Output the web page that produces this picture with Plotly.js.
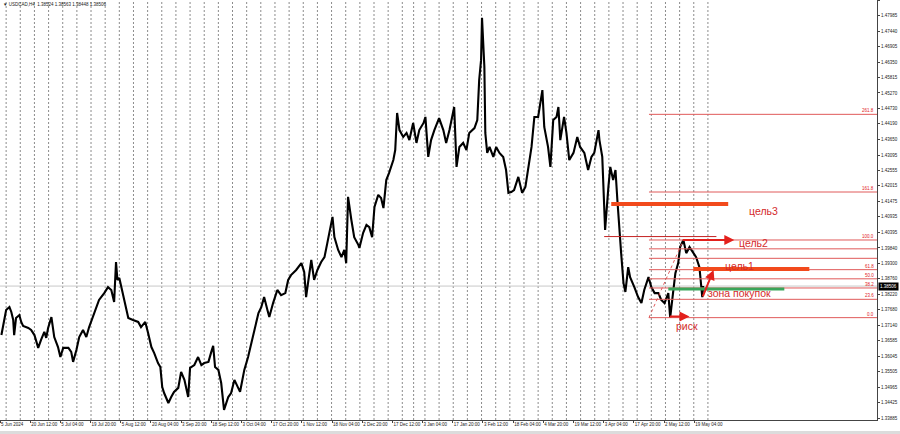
<!DOCTYPE html>
<html><head><meta charset="utf-8">
<script src="https://cdn.plot.ly/plotly-3.0.1.min.js"></script>
<style>html,body{margin:0;padding:0;background:#fff}#chart{width:900px;height:434px}</style>
</head><body><div id="chart"></div>
<script>
const symbolHeader = "\u25BC USDCAD,H4  1.38524 1.38563 1.38448 1.38506";

// H4 bar number (bar 0 = 5 Jun 2024 20:00) and price
const barIndex = [3,9,13,20,24,28,30,34,41,45,49,60,66,73,81,87,94,98,102,109,115,123,128,134,145,151,155,162,168,176,183,189,200,210,221,229,236,242,246,249,253,259,266,272,282,293,299,308,314,321,327,335,340,344,348,357,363,369,378,384,391,395,399,403,412,420,427,433,442,448,452,456,463,469,475,484,490,497,505,509,
511,518,526,533,539,548,554,560,567,571,579,588,596,605,611,617,628,639,645,649,654,660,666,673,681,688,694,700,705,709,717,724,730,734,738,745,751,760,762,770,777,783,789,794,802,808,813,819,825,834,838,842,847,855,862,868,876,883,889,898,902,908,914,921,931,940,946,953,963,968,974,982,989,995,1006,1012,1016,1020,1022,1027,1029,1033,1038,1046,1052,1059,1067,1073,1078,1084,1090,1099,1107,1114,1120,1127,1133,1141,1150,1154,1162,1167,1173,1180,1184,1188,1196,1201,1207,1216,1224,1230,1239,1247,1254,1260,1269,1271,1277,1281,1283,1290,1294,1300,1305,1309,1313,1317,1322,1326,1332,1336,1345,1353,1360,1366,1375,1381,1388,1396,1402,1409,1417,1421,1427,1432,1438,1442,1449,1455,1462,1470,1476,1483,1489,1491];
const price = [1.3679,1.3725,1.3767,1.3777,1.3760,1.3732,1.3679,1.3739,1.3749,1.3725,1.3711,1.3704,1.3697,1.3679,1.3634,1.3662,1.3690,1.3669,1.3704,1.3742,1.3672,1.3637,1.3602,1.3634,1.3634,1.3620,1.3585,1.3627,1.3672,1.3697,1.3672,1.3707,1.3756,1.3802,1.3826,1.3847,1.3837,1.3795,1.3935,1.3872,1.3879,1.3837,1.3777,1.3739,1.3732,1.3725,1.3707,1.3725,1.3686,1.3637,1.3616,1.3581,1.3567,1.3497,1.3476,1.3441,1.3462,1.3480,1.3494,1.3550,1.3522,1.3497,1.3462,1.3564,1.3574,1.3602,1.3574,1.3581,1.3585,1.3620,1.3641,1.3567,1.3557,1.3511,1.3417,1.3462,1.3476,1.3522,1.3497,1.3480,
1.3497,1.3557,1.3602,1.3651,1.3697,1.3756,1.3777,1.3812,1.3767,1.3742,1.3791,1.3837,1.3819,1.3826,1.3872,1.3889,1.3907,1.3931,1.3900,1.3812,1.3872,1.3942,1.3872,1.3907,1.3935,1.3952,1.4001,1.4057,1.4093,1.4022,1.3977,1.3952,1.3977,1.3931,1.4163,1.4082,1.4022,1.3994,1.3984,1.4037,1.4065,1.4057,1.4022,1.4128,1.4170,1.4159,1.4124,1.4222,1.4247,1.4292,1.4327,1.4457,1.4397,1.4373,1.4387,1.4362,1.4422,1.4352,1.4397,1.4422,1.4443,1.4303,1.4362,1.4397,1.4439,1.4397,1.4352,1.4397,1.4478,1.4268,1.4338,1.4352,1.4327,1.4387,1.4404,1.4432,1.4572,1.4642,1.4790,1.4618,1.4387,1.4317,1.4338,1.4303,1.4338,1.4317,1.4303,1.4257,1.4177,1.4180,1.4187,1.4233,1.4177,1.4198,1.4268,1.4338,1.4443,1.4443,1.4537,1.4408,1.4338,1.4268,1.4432,1.4443,1.4478,1.4362,1.4443,1.4387,1.4292,1.4317,1.4373,1.4338,1.4317,1.4257,1.4303,1.4317,1.4397,1.4362,1.4303,1.4152,1.4047,1.4198,1.4268,1.4222,1.4257,1.4152,1.4037,1.3966,1.3861,1.3830,1.3917,1.3882,1.3847,1.3812,1.3791,1.3837,1.3882,1.3847,1.3826,1.3826,1.3802,1.3791,1.3826,1.3740,1.3826,1.3896,1.3931,1.3987,1.4012,1.3966,1.3987,1.3966,1.3952,1.3917,1.3812,1.3851];

const xTickBars = [0,64,128,192,256,320,384,448,512,576,640,704,768,832,896,960,1024,1088,1152,1216,1280,1344,1408,1472];
const xTickLabels = ["5 Jun 2024","20 Jun 12:00","5 Jul 04:00","19 Jul 20:00","5 Aug 12:00","20 Aug 04:00","3 Sep 20:00","18 Sep 12:00","3 Oct 04:00","17 Oct 20:00","1 Nov 12:00","18 Nov 04:00","2 Dec 20:00","17 Dec 12:00","3 Jan 04:00","17 Jan 20:00","3 Feb 12:00","18 Feb 04:00","4 Mar 20:00","19 Mar 12:00","3 Apr 04:00","17 Apr 20:00","2 May 12:00","19 May 04:00"];
const weekStartBars = [13,43,73,103,133,163,193,223,253,283,313,343,373,403,433,463,493,523,553,583,613,643,673,703,733,763,793,823,853,877,901,931,961,991,1021,1051,1081,1111,1141,1171,1201,1231,1261,1291,1321,1351,1381,1411,1441,1471,1501];
const yTickValues = [1.48525,1.47985,1.47440,1.46905,1.46350,1.45815,1.45270,1.44730,1.44190,1.43650,1.43095,1.42555,1.42015,1.41475,1.40935,1.40395,1.39840,1.39300,1.38760,1.38220,1.37680,1.37140,1.36585,1.36045,1.35505,1.34965,1.34425,1.33885];
const lastPrice = 1.38506;

// Fibonacci retracement
const fibStartBar = 1376, fibEndBar = 1449;
const fibLow = 1.3740, fibHigh = 1.4012;
const fibLevels = [0, 23.6, 38.2, 50, 61.8, 76.4, 88.6, 100, 161.8, 261.8];
const fibShowLabel = [true, true, true, true, true, false, false, true, true, true];

// trade plan levels
const target3 = {price: 1.4138, from: 1296, to: 1544};
const target1 = {price: 1.3910, from: 1470, to: 1716};
const buyZone = {price: 1.3840, from: 1417, to: 1663};
const target2Line = {price: 1.4024, from: 1281, to: 1519};
const arrows = [
  {fromBar: 1445, fromP: 1.4012, toBar: 1557, toP: 1.4012},
  {fromBar: 1489, fromP: 1.3809, toBar: 1513, toP: 1.3907},
  {fromBar: 1417, fromP: 1.3744, toBar: 1462, toP: 1.3744}
];
const labels = [
  {text: "цель3", bar: 1618, p: 1.4113},
  {text: "цель2", bar: 1597, p: 1.4002},
  {text: "цель1", bar: 1567, p: 1.3921},
  {text: "зона покупок", bar: 1567, p: 1.3826},
  {text: "риск", bar: 1457, p: 1.3711}
];

const xMin = 0, xMax = 1859.5;
const yMin = 1.33815, yMax = 1.48526;
const RED = '#e3201c', FIBRED = '#e05a5a', ORANGE = '#f24a1c', GREEN = '#3aa55a';

const shapes = [];
weekStartBars.forEach(b => shapes.push({type:'line', xref:'x', yref:'paper', x0:b, x1:b, y0:0, y1:1,
  line:{color:'#8c8c8c', width:1, dash:'2px,2px'}, layer:'below'}));
shapes.push({type:'line', xref:'paper', yref:'y', x0:0, x1:1, y0:lastPrice, y1:lastPrice,
  line:{color:'#c8c8c8', width:1}, layer:'below'});
const fibPrice = l => fibLow + (fibHigh - fibLow) * l / 100;
fibLevels.forEach(l => shapes.push({type:'line', xref:'x', yref:'y', x0:fibStartBar, x1:xMax,
  y0:fibPrice(l), y1:fibPrice(l), line:{color:FIBRED, width:1}}));
shapes.push({type:'line', xref:'x', yref:'y', x0:fibStartBar, x1:fibEndBar, y0:fibLow, y1:fibHigh,
  line:{color:FIBRED, width:1, dash:'dot'}});
shapes.push({type:'line', xref:'x', yref:'y', x0:target2Line.from, x1:target2Line.to, y0:target2Line.price, y1:target2Line.price,
  line:{color:'#c42020', width:1}});
[target3, target1].forEach(t => shapes.push({type:'line', xref:'x', yref:'y', x0:t.from, x1:t.to, y0:t.price, y1:t.price,
  line:{color:ORANGE, width:4}}));
shapes.push({type:'line', xref:'x', yref:'y', x0:buyZone.from, x1:buyZone.to, y0:buyZone.price, y1:buyZone.price,
  line:{color:GREEN, width:3}});
// window bottom strip below the time scale
shapes.push({type:'rect', xref:'paper', yref:'paper', x0:0, x1:1.03, y0:-0.0335, y1:-0.026,
  line:{width:0}, fillcolor:'#dcdcdc'});

const annotations = [];
fibLevels.forEach((l, i) => { if (fibShowLabel[i]) annotations.push({xref:'paper', yref:'y', x:1, y:fibPrice(l),
  xanchor:'right', yanchor:'bottom', text:l.toFixed(1), showarrow:false, xshift:-1, yshift:-1,
  font:{family:'Liberation Sans, Arial', size:4.5, color:RED}}); });
arrows.forEach(a => annotations.push({xref:'x', yref:'y', axref:'x', ayref:'y', x:a.toBar, y:a.toP, ax:a.fromBar, ay:a.fromP,
  text:'', showarrow:true, arrowhead:2, arrowsize:1, arrowwidth:2, arrowcolor:RED}));
labels.forEach(t => annotations.push({xref:'x', yref:'y', x:t.bar, y:t.p, text:t.text, showarrow:false,
  font:{family:'Liberation Sans, Arial', size:10.5, color:'#d42a2a'}}));
annotations.push({xref:'paper', yref:'y', x:1, y:lastPrice, xanchor:'left', yanchor:'middle', text:lastPrice.toFixed(5),
  showarrow:false, bgcolor:'#000', borderpad:1, xshift:1, font:{family:'Liberation Sans, Arial', size:4.5, color:'#fff'}});
annotations.push({xref:'paper', yref:'paper', x:0, y:1, xanchor:'left', yanchor:'top', text:symbolHeader, showarrow:false,
  xshift:1, font:{family:'Liberation Sans, Arial', size:4.5, color:'#222'}});

const trace = {type:'scatter', mode:'lines', x:barIndex, y:price, line:{color:'#000', width:2.1}, hoverinfo:'skip'};

const layout = {
  width:900, height:434,
  margin:{l:0, r:23, t:0, b:14},
  paper_bgcolor:'#fff', plot_bgcolor:'#fff',
  showlegend:false,
  xaxis:{range:[xMin, xMax], tickvals:xTickBars, ticktext:xTickLabels, ticklabelposition:'outside right', tickangle:0,
    ticks:'outside', ticklen:2, tickcolor:'#444', showgrid:false, zeroline:false, showline:true, linecolor:'#444', linewidth:1,
    tickfont:{family:'Liberation Sans, Arial', size:4.5, color:'#222'}, fixedrange:true},
  yaxis:{range:[yMin, yMax], side:'right', tickvals:yTickValues, ticktext:yTickValues.map(v => v.toFixed(5)),
    ticks:'outside', ticklen:2, tickcolor:'#444', showgrid:false, zeroline:false, showline:true, linecolor:'#444', linewidth:1,
    tickfont:{family:'Liberation Sans, Arial', size:4.5, color:'#222'}, fixedrange:true},
  shapes:shapes, annotations:annotations
};
Plotly.newPlot('chart', [trace], layout, {displayModeBar:false, staticPlot:true});
</script></body></html>
